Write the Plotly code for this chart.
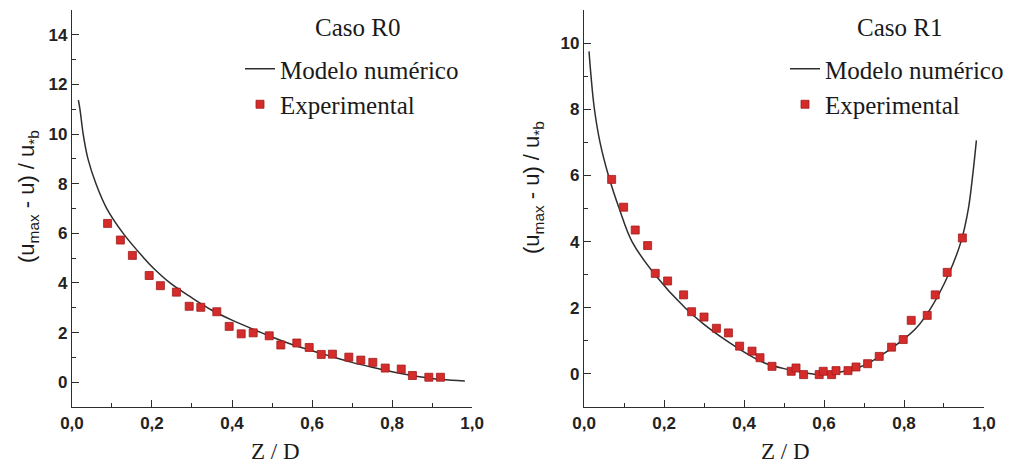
import plotly.graph_objects as go

# ---- Caso R0 ----
r0_model_z = [0.016, 0.02, 0.028, 0.04, 0.06, 0.087, 0.128, 0.18, 0.2, 0.245, 0.3, 0.35,
              0.4, 0.47, 0.5, 0.55, 0.6, 0.65, 0.7, 0.75, 0.8, 0.85, 0.9, 0.95, 0.982]
r0_model_v = [11.37, 11.0, 10.0, 9.0, 8.0, 7.0, 6.0, 5.0, 4.65, 4.0, 3.4, 2.9,
              2.5, 2.02, 1.82, 1.52, 1.27, 1.03, 0.8, 0.6, 0.42, 0.27, 0.15, 0.08, 0.05]
r0_exp_z = [0.089, 0.121, 0.151, 0.193, 0.221, 0.261, 0.293, 0.322, 0.362, 0.393, 0.423,
            0.453, 0.493, 0.522, 0.562, 0.593, 0.623, 0.651, 0.692, 0.722, 0.752, 0.783,
            0.823, 0.851, 0.892, 0.921]
r0_exp_v = [6.40, 5.73, 5.11, 4.30, 3.89, 3.63, 3.06, 3.02, 2.84, 2.25, 1.95,
            1.99, 1.87, 1.50, 1.58, 1.40, 1.12, 1.13, 1.01, 0.89, 0.80, 0.57,
            0.53, 0.27, 0.20, 0.20]

# ---- Caso R1 ----
r1_model_z = [0.0125, 0.0175, 0.026, 0.04, 0.061, 0.088, 0.12, 0.1775, 0.2525, 0.3, 0.357,
              0.423, 0.45, 0.5, 0.55, 0.59, 0.65, 0.7, 0.735, 0.794, 0.83, 0.8675, 0.911,
              0.9425, 0.961, 0.9717, 0.981]
r1_model_v = [9.75, 9.0, 8.0, 7.0, 6.0, 5.0, 4.0, 3.0, 2.0, 1.5, 1.0,
              0.5, 0.34, 0.16, 0.04, -0.02, 0.08, 0.26, 0.5, 1.0, 1.38, 2.0, 3.0,
              4.0, 5.0, 6.0, 7.06]
r1_exp_z = [0.069, 0.099, 0.128, 0.159, 0.178, 0.209, 0.249, 0.269, 0.300, 0.331, 0.361,
            0.389, 0.420, 0.440, 0.470, 0.518, 0.530, 0.549, 0.588, 0.598, 0.619, 0.630,
            0.660, 0.680, 0.709, 0.738, 0.769, 0.798, 0.818, 0.858, 0.878, 0.908, 0.946]
r1_exp_v = [5.88, 5.04, 4.35, 3.88, 3.04, 2.81, 2.39, 1.88, 1.72, 1.38, 1.24,
            0.84, 0.69, 0.49, 0.23, 0.08, 0.18, -0.02, -0.02, 0.08, -0.02, 0.10,
            0.10, 0.21, 0.31, 0.53, 0.81, 1.04, 1.62, 1.77, 2.39, 3.07, 4.11]

x_ticks = [0.0, 0.2, 0.4, 0.6, 0.8, 1.0]

LINE_COLOR = "#2e2e2e"
MARKER_COLOR = "#d42b2b"
SANS = "Liberation Sans, Arial, sans-serif"
SERIF = "Liberation Serif, Times New Roman, serif"
TEXT_COLOR = "#1a1a1a"

fig = go.Figure()


def add_case(model_z, model_v, exp_z, exp_v, xa, ya, legend):
    fig.add_trace(go.Scatter(
        x=model_z, y=model_v, mode="lines", name="Modelo numérico",
        line=dict(color=LINE_COLOR, width=1.5, shape="spline"),
        xaxis=xa, yaxis=ya, legend=legend))
    fig.add_trace(go.Scatter(
        x=exp_z, y=exp_v, mode="markers", name="Experimental",
        marker=dict(symbol="square", size=8, color=MARKER_COLOR,
                    line=dict(color="#a31c1c", width=0.8)),
        xaxis=xa, yaxis=ya, legend=legend))


add_case(r0_model_z, r0_model_v, r0_exp_z, r0_exp_v, "x", "y", "legend")
add_case(r1_model_z, r1_model_v, r1_exp_z, r1_exp_v, "x2", "y2", "legend2")

tick_font = dict(family=SANS, size=17, color="#222222", weight="bold")
axis_common = dict(
    showline=True, linecolor=LINE_COLOR, linewidth=1.4,
    ticks="inside", ticklen=7, tickwidth=1.3, tickcolor=LINE_COLOR,
    showgrid=False, zeroline=False, tickfont=tick_font, automargin=False,
)
y_minor = dict(ticks="inside", ticklen=4, tickcolor=LINE_COLOR, dtick=1, tick0=0)
x_common = dict(axis_common, range=[0, 1], tickvals=x_ticks, tickformat=".1f",
                minor=dict(ticks="inside", ticklen=4, tickcolor=LINE_COLOR, dtick=0.1, tick0=0))

legend_font = dict(family=SERIF, size=25, color=TEXT_COLOR)
fig.update_layout(
    width=1018, height=464,
    margin=dict(l=0, r=0, t=0, b=0, autoexpand=False),
    paper_bgcolor="white", plot_bgcolor="white",
    separators=", ",
    xaxis=dict(x_common, domain=[0.0707, 0.4637], anchor="y"),
    yaxis=dict(axis_common, range=[-1, 15], dtick=2, tick0=0,
               domain=[0.1228, 0.9784], anchor="x", minor=y_minor),
    xaxis2=dict(x_common, domain=[0.5737, 0.9666], anchor="y2"),
    yaxis2=dict(axis_common, range=[-1, 11], dtick=2, tick0=0,
                domain=[0.1228, 0.9784], anchor="x2", minor=y_minor),
    legend=dict(x=240 / 1018, y=1 - 46 / 464, xanchor="left", yanchor="top",
                bgcolor="rgba(0,0,0,0)", font=legend_font),
    legend2=dict(x=785 / 1018, y=1 - 46 / 464, xanchor="left", yanchor="top",
                 bgcolor="rgba(0,0,0,0)", font=legend_font),
)

y_title = "(u<sub>max</sub> - u) / u<sub>*b</sub>"
title_font = dict(family=SANS, size=22, color=TEXT_COLOR)
axis_title_font = dict(family=SERIF, size=23, color=TEXT_COLOR)
annotations = [
    dict(text="Caso R0", x=357 / 1018, y=1 - 27 / 464, font=legend_font),
    dict(text="Caso R1", x=899 / 1018, y=1 - 27 / 464, font=legend_font),
    dict(text=y_title, x=28 / 1018, y=1 - 197 / 464, textangle=-90),
    dict(text=y_title, x=533 / 1018, y=1 - 188 / 464, textangle=-90),
    dict(text="Z / D", x=275 / 1018, y=1 - 451 / 464, font=axis_title_font),
    dict(text="Z / D", x=785 / 1018, y=1 - 451 / 464, font=axis_title_font),
]
for a in annotations:
    a.setdefault("font", title_font)
    fig.add_annotation(xref="paper", yref="paper", xanchor="center", yanchor="middle",
                       showarrow=False, **a)

fig.write_html("out.html")
